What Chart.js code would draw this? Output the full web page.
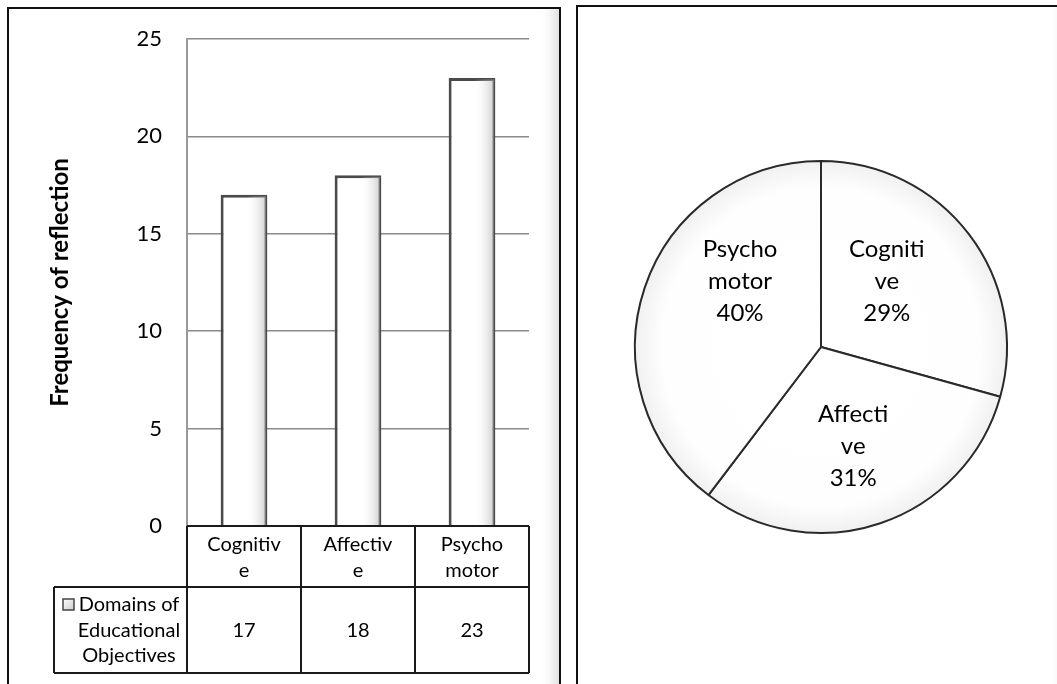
<!DOCTYPE html>
<html>
<head>
<meta charset="utf-8">
<script src="https://cdn.jsdelivr.net/npm/chart.js@4/dist/chart.umd.min.js"></script>
<style>
  html, body { margin: 0; padding: 0; background: #fff; overflow: hidden; }
  body { width: 1057px; height: 684px; position: relative; }
  .panel {
    position: absolute;
    border: 2.5px solid #111;
    border-bottom: none;
    box-shadow: inset -14px -14px 14px -10px rgba(0,0,0,0.16);
    background: #fff;
  }
  #leftPanel { left: 7px; top: 7px; width: 550px; height: 700px; }
  #rightPanel { left: 576px; top: 5px; width: 490px; height: 700px; border-right: none; }
  canvas { position: absolute; top: 0; }
  #barCanvas { left: 0; }
  #pieCanvas { left: 570px; }
</style>
</head>
<body>
<div class="panel" id="leftPanel"></div>
<div class="panel" id="rightPanel"></div>
<canvas id="barCanvas" width="570" height="684" style="width:570px;height:684px"></canvas>
<canvas id="pieCanvas" width="487" height="684" style="width:487px;height:684px"></canvas>
<script>
const categories = ['Cognitive', 'Affective', 'Psychomotor'];
const categoryLines = [['Cognitiv', 'e'], ['Affectiv', 'e'], ['Psycho', 'motor']];
const pieLines = [['Cogniti', 've'], ['Affecti', 've'], ['Psycho', 'motor']];
const frequencies = [17, 18, 23];
const seriesName = ['Domains of', 'Educational', 'Objectives'];
const yTicks = [0, 5, 10, 15, 20, 25];

const FONT = 'Lato, "Open Sans", sans-serif';

// bar shading: white with a grey fade on the right side
const barShade = {
  id: 'barShade',
  afterDatasetsDraw(chart) {
    const ctx = chart.ctx;
    chart.getDatasetMeta(0).data.forEach(bar => {
      const l = bar.x - bar.width / 2 + 1.5, r = bar.x + bar.width / 2 - 1.5;
      const t = bar.y + 1.5, b = bar.base;
      const g = ctx.createLinearGradient(l, 0, r, 0);
      g.addColorStop(0, 'rgba(255,255,255,0)');
      g.addColorStop(0.55, 'rgba(255,255,255,0)');
      g.addColorStop(1, 'rgba(170,170,170,0.55)');
      ctx.save();
      ctx.fillStyle = g;
      ctx.fillRect(l, t, r - l, b - t);
      ctx.restore();
    });
  }
};

// data table under the bars (Excel style)
const dataTable = {
  id: 'dataTable',
  afterDraw(chart) {
    const ctx = chart.ctx;
    const x = chart.scales.x;
    const area = chart.chartArea;
    const half = (x.getPixelForValue(1) - x.getPixelForValue(0)) / 2;
    const left = x.getPixelForValue(0) - half;
    const right = x.getPixelForValue(categories.length - 1) + half;
    const top = area.bottom, row1 = 587, row2 = 673, legendLeft = 54;

    ctx.save();
    ctx.strokeStyle = '#1a1a1a';
    ctx.lineWidth = 2;
    ctx.beginPath();
    ctx.moveTo(left, top); ctx.lineTo(right, top);
    ctx.moveTo(legendLeft, row1); ctx.lineTo(right, row1);
    ctx.moveTo(legendLeft, row2); ctx.lineTo(right, row2);
    ctx.moveTo(legendLeft, row1); ctx.lineTo(legendLeft, row2);
    for (let i = 0; i <= categories.length; i++) {
      const ex = left + i * half * 2;
      ctx.moveTo(ex, top); ctx.lineTo(ex, row2);
    }
    ctx.stroke();

    ctx.fillStyle = '#000';
    ctx.font = '20px ' + FONT;
    ctx.textAlign = 'center';
    ctx.textBaseline = 'alphabetic';
    categories.forEach((c, i) => {
      const cx = x.getPixelForValue(i);
      categoryLines[i].forEach((line, k) => ctx.fillText(line, cx, 551 + k * 26));
      ctx.fillText(String(frequencies[i]), cx, 637);
    });

    // legend key
    const kg = ctx.createLinearGradient(63, 598, 75, 611);
    kg.addColorStop(0, '#ffffff');
    kg.addColorStop(1, '#c8c8c8');
    ctx.fillStyle = kg;
    ctx.fillRect(63, 599, 11, 11);
    ctx.strokeStyle = '#444';
    ctx.lineWidth = 1.5;
    ctx.strokeRect(63, 599, 11, 11);

    ctx.fillStyle = '#000';
    seriesName.forEach((line, k) => ctx.fillText(line, 129, 611 + k * 25.5));
    ctx.restore();
  }
};

new Chart(document.getElementById('barCanvas'), {
  type: 'bar',
  data: {
    labels: categories,
    datasets: [{
      label: seriesName.join(' '),
      data: frequencies,
      backgroundColor: '#ffffff',
      borderColor: '#4a4a4a',
      borderWidth: 3,
      borderSkipped: 'bottom',
      barPercentage: 0.41,
      categoryPercentage: 1
    }]
  },
  options: {
    responsive: false,
    animation: false,
    layout: { padding: { left: 0, right: 41, top: 39, bottom: 158 } },
    plugins: { legend: { display: false }, tooltip: { enabled: false } },
    scales: {
      x: { display: false },
      y: {
        min: 0,
        max: 25,
        afterBuildTicks(scale) { scale.ticks = yTicks.map(v => ({ value: v })); },
        afterFit(scale) { scale.width = 187; },
        grid: { color: '#8a8a8a', lineWidth: 1.5, drawTicks: false },
        border: { color: '#9a9a9a', width: 2 },
        ticks: { padding: 25, color: '#000', font: { family: FONT, size: 22 } },
        title: {
          display: true,
          text: 'Frequency of reflection',
          color: '#000',
          font: { family: FONT, size: 24, weight: 'bold' },
          padding: { top: 46, bottom: 0 }
        }
      }
    }
  },
  plugins: [barShade, dataTable]
});

// labels inside the pie, anchored by angle (deg from top) and radius fraction
const pieLabels = {
  id: 'pieLabels',
  afterDraw(chart, args, opts) {
    const ctx = chart.ctx;
    const arcs = chart.getDatasetMeta(0).data;
    const total = frequencies.reduce((a, b) => a + b, 0);
    ctx.save();
    ctx.fillStyle = '#000';
    ctx.font = '24px ' + FONT;
    ctx.textAlign = 'center';
    ctx.textBaseline = 'middle';
    arcs.forEach((arc, i) => {
      const [deg, frac] = opts.anchors[i];
      const a = deg * Math.PI / 180;
      const cx = arc.x + Math.sin(a) * arc.outerRadius * frac;
      const cy = arc.y - Math.cos(a) * arc.outerRadius * frac;
      const lines = pieLines[i].concat(Math.round(frequencies[i] / total * 100) + '%');
      lines.forEach((line, k) => ctx.fillText(line, cx, cy + (k - 1) * 32));
    });
    ctx.restore();
  }
};

new Chart(document.getElementById('pieCanvas'), {
  type: 'pie',
  data: {
    labels: categories,
    datasets: [{
      data: frequencies,
      backgroundColor(context) {
        const area = context.chart.chartArea;
        if (!area) return '#fff';
        const cx = (area.left + area.right) / 2, cy = (area.top + area.bottom) / 2;
        const g = context.chart.ctx.createRadialGradient(cx, cy, 0, cx, cy, area.width / 2);
        g.addColorStop(0, '#ffffff');
        g.addColorStop(0.85, '#fefefe');
        g.addColorStop(1, '#f0f0f0');
        return g;
      },
      borderColor: '#2a2a2a',
      borderWidth: 2
    }]
  },
  options: {
    responsive: false,
    animation: false,
    layout: { padding: { left: 64, right: 49, top: 160, bottom: 150 } },
    plugins: {
      legend: { display: false },
      tooltip: { enabled: false },
      pieLabels: { anchors: [[45, 0.5], [162, 0.56], [309, 0.56]] }
    }
  },
  plugins: [pieLabels]
});
</script>
</body>
</html>
